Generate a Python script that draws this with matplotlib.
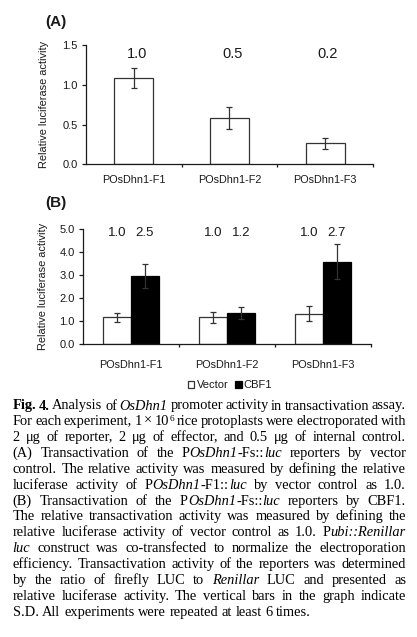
import matplotlib
matplotlib.use("Agg")
import matplotlib.pyplot as plt
import numpy as np
from matplotlib.font_manager import FontProperties
from matplotlib.ticker import FormatStrFormatter


# ==========================================
# DATA
# ==========================================

constructs = ["POsDhn1-F1", "POsDhn1-F2", "POsDhn1-F3"]

# (A) vector control
a_activity = [1.09, 0.586, 0.264]
a_sd = [0.125, 0.137, 0.068]
a_fold = ["1.0", "0.5", "0.2"]

# (B) vector vs CBF1
b_vector = [1.17, 1.17, 1.33]
b_vector_sd = [0.20, 0.25, 0.33]
b_cbf1 = [2.98, 1.37, 3.59]
b_cbf1_sd = [0.52, 0.25, 0.76]
b_vector_fold = ["1.0", "1.0", "1.0"]
b_cbf1_fold = ["2.5", "1.2", "2.7"]

series_names = ["Vector", "CBF1"]

caption_lines = [
    [("Fig. 4.", "bold"), (" Analysis of ", "normal"), ("OsDhn1", "italic"),
     (" promoter activity in transactivation assay.", "normal")],
    [("For each experiment, 1 \u00d7 10", "normal"), ("6", "sup"),
     (" rice protoplasts were electroporated with", "normal")],
    [("2 \u03bcg of reporter, 2 \u03bcg of effector, and 0.5 \u03bcg of internal control.", "normal")],
    [("(A) Transactivation of the P", "normal"), ("OsDhn1", "italic"), ("-Fs::", "normal"),
     ("luc", "italic"), (" reporters by vector", "normal")],
    [("control. The relative activity was measured by defining the relative", "normal")],
    [("luciferase activity of P", "normal"), ("OsDhn1", "italic"), ("-F1::", "normal"),
     ("luc", "italic"), (" by vector control as 1.0.", "normal")],
    [("(B) Transactivation of the P", "normal"), ("OsDhn1", "italic"), ("-Fs::", "normal"),
     ("luc", "italic"), (" reporters by CBF1.", "normal")],
    [("The relative transactivation activity was measured by defining the", "normal")],
    [("relative luciferase activity of vector control as 1.0. P", "normal"),
     ("ubi::Renillar", "italic")],
    [("luc", "italic"), (" construct was co-transfected to normalize the electroporation", "normal")],
    [("efficiency. Transactivation activity of the reporters was determined", "normal")],
    [("by the ratio of firefly LUC to ", "normal"), ("Renillar", "italic"),
     (" LUC and presented as", "normal")],
    [("relative luciferase activity. The vertical bars in the graph indicate", "normal")],
    [("S.D. All experiments were repeated at least 6 times.", "normal")],
]


# ==========================================
# FIGURE
# ==========================================

W, H = 417, 637
plt.rcParams["font.family"] = ["Liberation Sans", "DejaVu Sans"]
fig = plt.figure(figsize=(W / 100, H / 100), dpi=100)

ink = "#1a1a1a"
edge = "#333333"
x = np.arange(len(constructs))


def px_axes(x0, y0, x1, y1):
    return fig.add_axes([x0 / W, 1 - y1 / H, (x1 - x0) / W, (y1 - y0) / H])


def style_axis(ax, ymax, step, xpad):
    ax.set_xlim(-0.5, 2.5)
    ax.set_ylim(0, ymax)
    for s in ["top", "right"]:
        ax.spines[s].set_visible(False)
    for s in ["left", "bottom"]:
        ax.spines[s].set_linewidth(0.9)
        ax.spines[s].set_color(ink)
    ax.set_yticks(np.arange(0, ymax + 0.001, step))
    ax.yaxis.set_major_formatter(FormatStrFormatter("%.1f"))
    ax.set_xticks(x)
    ax.set_xticklabels(constructs)
    ax.set_xticks([0.5, 1.5, 2.5], minor=True)
    ax.tick_params(axis="x", which="major", length=0, pad=xpad,
                   labelsize=7.8, labelcolor=ink)
    ax.tick_params(axis="x", which="minor", length=2.5, width=0.9,
                   direction="out", color=ink)
    ax.tick_params(axis="y", length=3, width=0.9, direction="out",
                   pad=3, labelsize=8, labelcolor=ink, color=ink)
    ax.set_ylabel("Relative luciferase activity", fontsize=7.9, color=ink)


err_style = dict(ecolor=edge, elinewidth=0.9, capsize=2.2, capthick=0.9)


# ==========================================
# (A)
# ==========================================

axA = px_axes(86, 45, 373, 164.3)

axA.bar(x, a_activity, width=0.41, color="white", edgecolor=edge,
        linewidth=0.9, yerr=a_sd, error_kw=err_style)

for xi, lab in zip(x, a_fold):
    axA.text(xi + 0.03, 1.387, lab, ha="center", va="center",
             fontsize=10.5, color=ink)

style_axis(axA, 1.5, 0.5, 8)
axA.yaxis.set_label_coords(-0.129, 0.5)

fig.text(45 / W, 1 - 22 / H, "(A)", fontsize=11, fontweight="bold",
         va="center", ha="left", color=ink)


# ==========================================
# (B)
# ==========================================

axB = px_axes(83, 229.3, 371, 344.3)

bw = 0.29
bars_v = axB.bar(x - bw / 2, b_vector, width=bw, color="white", edgecolor=edge,
                 linewidth=0.9, yerr=b_vector_sd, error_kw=err_style)
bars_c = axB.bar(x + bw / 2, b_cbf1, width=bw, color="black", edgecolor="black",
                 linewidth=0.9, yerr=b_cbf1_sd, error_kw=err_style)

for xi, lv, lc in zip(x, b_vector_fold, b_cbf1_fold):
    axB.text(xi - bw / 2, 4.84, lv, ha="center", va="center",
             fontsize=9.5, color=ink)
    axB.text(xi + bw / 2, 4.84, lc, ha="center", va="center",
             fontsize=9.5, color=ink)

style_axis(axB, 5.0, 1.0, 11)
axB.yaxis.set_label_coords(-0.122, 0.5)

fig.text(45 / W, 1 - 203 / H, "(B)", fontsize=11, fontweight="bold",
         va="center", ha="left", color=ink)

fig.legend([bars_v, bars_c], series_names, loc="center",
           bbox_to_anchor=(230 / W, 1 - 385 / H), ncol=2, frameon=False,
           fontsize=8, handlelength=0.6, handleheight=0.6,
           handletextpad=0.2, columnspacing=0.6, labelcolor=ink)


# ==========================================
# CAPTION (justified)
# ==========================================

cap_size = 10.4
cap_left, cap_right = 12.7, 406.0
cap_top = 409.5
cap_step = 15.85

fonts = {
    "normal": FontProperties(family="Liberation Serif", size=cap_size),
    "bold": FontProperties(family="Liberation Serif", size=cap_size, weight="bold"),
    "italic": FontProperties(family="Liberation Serif", size=cap_size, style="italic"),
    "sup": FontProperties(family="Liberation Serif", size=cap_size * 0.65),
}

renderer = fig.canvas.get_renderer()


def words_of(runs):
    words = [[]]
    for text, style in runs:
        parts = text.split(" ")
        for i, p in enumerate(parts):
            if i > 0:
                words.append([])
            if p:
                words[-1].append((p, style))
    return [w for w in words if w]


def run_width(text, style):
    w, h, d = renderer.get_text_width_height_descent(text, fonts[style], ismath=False)
    return w


space_w = run_width("a a", "normal") - run_width("aa", "normal")

for li, runs in enumerate(caption_lines):
    words = words_of(runs)
    widths = [sum(run_width(t, s) for t, s in w) for w in words]
    last = li == len(caption_lines) - 1
    if last or len(words) < 2:
        gap = space_w
    else:
        gap = (cap_right - cap_left - sum(widths)) / (len(words) - 1)
    base = cap_top + li * cap_step
    xpos = cap_left
    for w, ww in zip(words, widths):
        xr = xpos
        for t, s in w:
            dy = -4.5 if s == "sup" else 0
            fig.text(xr / W, 1 - (base + dy) / H, t, fontproperties=fonts[s],
                     ha="left", va="baseline", color="black")
            xr += run_width(t, s)
        xpos += ww + gap

fig.savefig("out.png", dpi=100)
